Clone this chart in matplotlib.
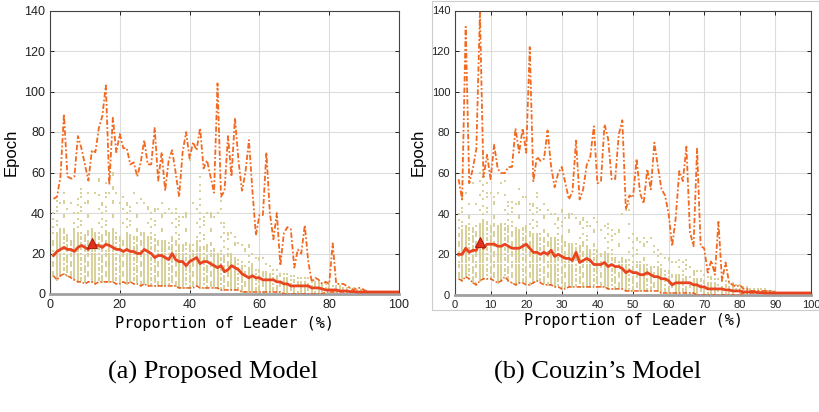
import numpy as np
import matplotlib
matplotlib.use("Agg")
import matplotlib.pyplot as plt
from matplotlib.patches import Rectangle

# proportion of leader (%)
x = np.arange(1, 101)

# (a) proposed model
a_max = [47, 48, 58, 89, 58, 57, 58, 78, 72, 64,
         56, 71, 70, 82, 88, 103, 54, 87, 70, 79,
         72, 72, 64, 65, 58, 65, 76, 64, 64, 82,
         56, 70, 51, 66, 71, 60, 48, 70, 80, 67,
         75, 71, 82, 62, 66, 58, 50, 104, 48, 51,
         78, 58, 87, 66, 51, 60, 76, 51, 29, 39,
         39, 70, 40, 27, 40, 14, 30, 33, 32, 13,
         22, 20, 34, 16, 6, 8, 7, 5, 6, 5,
         25, 5, 5, 5, 4, 3, 2, 3, 3, 2,
         1, 1, 1, 1, 1, 1, 1, 1, 1, 1]
a_mean = [19, 21, 22, 23, 22, 22, 21, 23, 24, 23,
          22, 25, 24, 24, 23, 24.5, 24, 23, 22, 22,
          21, 22, 21, 21, 20, 20, 22, 21, 20, 18,
          19, 19, 18, 17, 20, 17, 16, 16, 14, 16,
          17, 18, 15, 16, 16, 15, 14, 13, 14, 11,
          12, 14, 13, 12, 10, 9, 8, 9, 8, 8,
          7, 7, 7, 7, 6, 6, 5, 5, 4, 4,
          4, 4, 4, 4, 3, 3, 3, 2.5, 2, 2,
          2, 2, 1.5, 1.5, 1.5, 1.2, 1.2, 1, 1, 1,
          1, 1, 1, 1, 1, 1, 1, 1, 1, 1]
a_min = [9, 7, 9, 10, 9, 8, 7, 6, 6, 5,
         6, 6, 5, 6, 6, 6, 6, 6, 5, 5,
         6, 5, 6, 5, 5, 4, 5, 4, 4, 4,
         4, 4, 4, 4, 4, 4, 3, 3, 3, 3,
         3, 4, 3, 3, 3, 3, 3, 3, 2, 2,
         2, 2, 2, 2, 1, 1, 1, 1, 1, 1,
         1, 1, 1, 1, 1, 1, 0, 0, 0, 0,
         0, 0, 0, 0, 0, 0, 0, 0, 1, 1,
         1, 1, 1, 1, 1, 1, 1, 1, 1, 1,
         1, 1, 1, 1, 1, 1, 1, 1, 1, 1]
a_dense = [28, 30, 32, 30, 30, 28, 32, 30, 30, 30,
           32, 32, 30, 30, 30, 32, 30, 30, 30, 28,
           28, 30, 28, 28, 28, 30, 30, 28, 28, 26,
           26, 26, 26, 25, 28, 25, 24, 24, 22, 24,
           24, 26, 22, 24, 24, 22, 22, 20, 20, 18,
           20, 20, 18, 17, 16, 14, 13, 14, 12, 12,
           11, 11, 10, 10, 9, 9, 8, 8, 7, 7,
           7, 6, 6, 6, 5, 5, 5, 4, 4, 4,
           3, 3, 3, 3, 2, 2, 2, 2, 2, 2,
           1, 1, 1, 1, 1, 1, 1, 1, 1, 1]
a_sparse = [40, 46, 45, 50, 42, 45, 40, 47, 52, 45,
            50, 70, 50, 57, 45, 55, 50, 60, 50, 45,
            48, 45, 43, 50, 45, 47, 45, 43, 40, 42,
            42, 45, 40, 42, 40, 42, 38, 38, 40, 66,
            45, 42, 58, 38, 40, 40, 38, 40, 46, 35,
            30, 30, 28, 25, 24, 22, 24, 20, 18, 18,
            18, 15, 14, 12, 12, 10, 10, 10, 9, 9,
            8, 8, 8, 8, 6, 6, 6, 5, 5, 5,
            4, 4, 4, 3, 3, 3, 3, 2, 2, 2,
            1, 1, 1, 1, 1, 1, 1, 1, 1, 1]

# (b) Couzin's model
b_max = [57, 47, 132, 55, 62, 72, 139, 58, 69, 57,
         74, 62, 60, 60, 63, 63, 82, 70, 82, 70,
         122, 56, 68, 66, 67, 81, 63, 53, 60, 63,
         55, 47, 51, 76, 47, 52, 64, 68, 83, 55,
         56, 84, 77, 57, 57, 79, 86, 42, 49, 48,
         67, 50, 45, 62, 52, 75, 63, 52, 49, 40,
         24, 38, 61, 56, 73, 31, 24, 72, 24, 23,
         11, 17, 10, 36, 7, 16, 6, 5, 4, 5,
         3, 3, 2, 2, 2, 2, 2, 2, 2, 1,
         1, 1, 1, 1, 1, 1, 1, 1, 1, 1]
b_mean = [20, 20, 23, 21, 22, 22, 26, 23, 25, 25,
          25, 24, 24, 25, 24, 23, 23, 23, 24, 25,
          23, 21, 21, 20, 21, 20, 22, 19, 20, 19,
          18, 18, 17, 21, 16, 17, 18, 17, 15, 15,
          15, 16, 14, 15, 14, 14, 13, 11, 12, 11,
          11, 10, 10, 11, 10, 9, 9, 8, 8, 7,
          5, 6, 6, 6, 6, 6, 5, 5, 4, 4,
          3, 3, 3, 3, 3, 2.5, 2.5, 2, 2, 2,
          1.5, 1.5, 1.5, 1.5, 1.2, 1.2, 1, 1, 1, 1,
          1, 1, 1, 1, 1, 1, 1, 1, 1, 1]
b_min = [8, 7, 9, 8, 6, 5, 7, 8, 8, 8,
         7, 6, 7, 9, 7, 6, 5, 6, 6, 5,
         5, 6, 7, 6, 5, 5, 5, 4, 4, 3,
         3, 4, 4, 4, 4, 4, 4, 4, 4, 4,
         4, 4, 3, 3, 3, 3, 3, 2, 2, 2,
         2, 2, 2, 2, 2, 2, 2, 1, 1, 1,
         1, 1, 1, 1, 1, 1, 1, 0, 0, 0,
         0, 0, 0, 0, 0, 0, 0, 0, 0, 0,
         1, 1, 1, 1, 1, 1, 1, 1, 1, 1,
         1, 1, 1, 1, 1, 1, 1, 1, 1, 1]
b_dense = [30, 32, 34, 35, 33, 34, 35, 36, 35, 34,
           35, 34, 35, 34, 35, 34, 33, 32, 33, 34,
           32, 30, 30, 30, 28, 30, 28, 28, 27, 28,
           26, 25, 25, 25, 24, 25, 24, 22, 22, 22,
           20, 20, 20, 20, 18, 18, 18, 17, 17, 16,
           16, 16, 15, 15, 14, 14, 14, 12, 12, 12,
           10, 10, 10, 10, 9, 9, 8, 8, 8, 7,
           6, 6, 6, 5, 5, 5, 4, 4, 4, 3,
           3, 3, 3, 2, 2, 2, 2, 2, 2, 2,
           1, 1, 1, 1, 1, 1, 1, 1, 1, 1]
b_sparse = [40, 48, 50, 45, 55, 45, 60, 68, 55, 50,
            48, 50, 55, 56, 46, 46, 45, 52, 48, 48,
            45, 45, 50, 42, 45, 42, 40, 40, 38, 42,
            38, 40, 40, 38, 36, 38, 36, 34, 38, 36,
            32, 34, 35, 32, 30, 32, 40, 42, 45, 30,
            28, 26, 28, 26, 28, 24, 22, 20, 18, 18,
            16, 16, 17, 16, 17, 14, 12, 12, 12, 10,
            9, 9, 8, 8, 7, 7, 6, 6, 5, 5,
            4, 4, 3, 3, 3, 3, 3, 2, 2, 2,
            1, 1, 1, 1, 1, 1, 1, 1, 1, 1]

a_xticks = [0, 20, 40, 60, 80, 100]
b_xticks = [0, 10, 20, 30, 40, 50, 60, 70, 80, 90, 100]
yticks = [0, 20, 40, 60, 80, 100, 120, 140]

DOT = "#d8d19b"
MAXC = "#f26a21"
MEANC = "#e84420"
MINC = "#f05a1e"


def draw_panel(ax, mx, mean, mn, dense, sparse, xticks, tick_fs):
    # epoch samples: near-solid columns up to the dense limit, scattered above
    px, py = [], []
    for xi, lo, d, s in zip(x, mn, dense, sparse):
        for yv in range(int(lo), int(d) + 1):
            if (yv * yv + xi) % 5 != 0:
                px.append(xi)
                py.append(yv)
        for yv in range(int(d) + 1, int(s) + 1):
            if (yv * yv + 3 * xi) % 7 == 0 or yv == int(s):
                px.append(xi)
                py.append(yv)
    ax.scatter(px, py, s=1.3, marker="s", color=DOT, linewidths=0, zorder=2)

    ax.plot(x, mx, color=MAXC, lw=1.3, dashes=(3, 1.2, 1, 1.2), zorder=3)
    ax.plot(x, mn, color=MINC, lw=1.1, dashes=(3, 1.2, 1, 1.2), zorder=3)
    ax.plot(x, mean, color=MEANC, lw=2.0, zorder=4)
    i = int(np.argmax(mean))
    ax.plot(x[i], mean[i], marker="^", ms=7, color="#e0301c",
            mec="#b01e10", mew=0.8, zorder=5)

    ax.set_xlim(0, 100)
    ax.set_ylim(0, 140)
    ax.set_xticks(xticks)
    ax.set_yticks(yticks)
    ax.grid(True, color="#dcdcdc", lw=0.8)
    ax.set_axisbelow(True)
    ax.tick_params(direction="in", top=True, right=True, length=3,
                   labelsize=tick_fs, colors="#222222", width=0.7)
    for side in ("top", "left", "right"):
        ax.spines[side].set_color("#444444")
        ax.spines[side].set_linewidth(0.8)
    ax.spines["bottom"].set_color("#a0a0a0")
    ax.spines["bottom"].set_linewidth(2.0)
    ax.set_ylabel("Epoch", fontsize=12, family="Liberation Sans", labelpad=4)
    ax.set_xlabel("Proportion of Leader (%)", fontsize=11,
                  family="DejaVu Sans Mono", labelpad=4)


plt.rcParams["font.family"] = ["Liberation Sans", "DejaVu Sans"]
fig = plt.figure(figsize=(8.2, 4.12), dpi=100)

# light frame around the right-hand screenshot
fig.patches.append(Rectangle((432 / 820, 1 - 310 / 412), 387 / 820, 309 / 412,
                             transform=fig.transFigure, fill=False,
                             ec="#cccccc", lw=0.8))

ax1 = fig.add_axes([50 / 820, 118 / 412, 349 / 820, 283.5 / 412])
draw_panel(ax1, a_max, a_mean, a_min, a_dense, a_sparse, a_xticks, 9)

ax2 = fig.add_axes([455 / 820, 117 / 412, 356 / 820, 284.5 / 412])
draw_panel(ax2, b_max, b_mean, b_min, b_dense, b_sparse, b_xticks, 8)
ax2.xaxis.labelpad = 2

fig.text(213 / 820, 1 - 372 / 412, "(a) Proposed Model", ha="center", va="center",
         fontsize=19, family="Liberation Serif")
fig.text(598 / 820, 1 - 372 / 412, "(b) Couzin\u2019s Model", ha="center", va="center",
         fontsize=19, family="Liberation Serif")

fig.savefig("out.png", dpi=100)
